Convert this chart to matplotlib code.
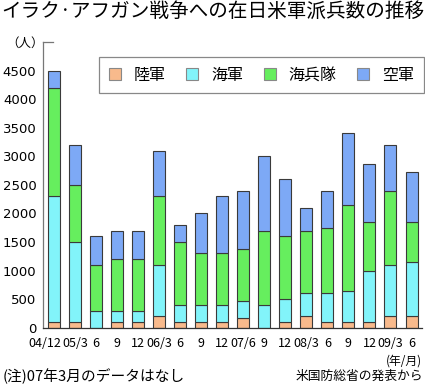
import numpy as np
import matplotlib
matplotlib.use('Agg')
import matplotlib.pyplot as plt
import matplotlib.transforms as mtransforms

plt.rcParams['font.family'] = ['Noto Sans CJK JP', 'DejaVu Sans']

# data (persons)
periods = ['04/12', '05/3', '6', '9', '12', '06/3', '6', '9', '12',
           '07/6', '9', '12', '08/3', '6', '9', '12', '09/3', '6']
army = [100, 100, 0, 100, 100, 200, 100, 100, 100,
        170, 0, 100, 200, 100, 100, 100, 200, 200]
navy_top = [2300, 1500, 300, 300, 300, 1100, 400, 400, 400,
            470, 400, 500, 600, 600, 650, 1000, 1100, 1150]
marines_top = [4200, 2500, 1100, 1200, 1200, 2300, 1500, 1300, 1300,
               1380, 1700, 1600, 1700, 1750, 2150, 1850, 2400, 1850]
air_top = [4500, 3200, 1600, 1700, 1700, 3100, 1800, 2000, 2300,
           2390, 3000, 2600, 2100, 2400, 3400, 2870, 3200, 2730]

branches = ['陸軍', '海軍', '海兵隊', '空軍']
colors = ['#F8BA8C', '#82F4FA', '#66EE5E', '#7DA9F6']

army = np.array(army)
navy = np.array(navy_top) - army
marines = np.array(marines_top) - np.array(navy_top)
air = np.array(air_top) - np.array(marines_top)

fig = plt.figure(figsize=(4.25, 3.86), dpi=100)
ax = fig.add_axes([0.102, 0.151, 0.891, 0.740])

x = np.arange(len(periods))
bottom = np.zeros(len(periods))
for vals, name, c in zip([army, navy, marines, air], branches, colors):
    ax.bar(x, vals, 0.57, bottom=bottom, color=c, edgecolor='#3a3a3a',
           linewidth=0.8, label=name)
    bottom = bottom + vals

ax.set_xlim(-0.5, 17.5)
ax.set_ylim(0, 5000)
ax.set_yticks(range(0, 5000, 500))
ax.set_yticklabels([str(v) for v in range(0, 5000, 500)], family='DejaVu Sans', fontsize=9.5)
ax.set_xticks(x)
ax.set_xticklabels(periods, fontsize=9)
ax.tick_params(axis='both', length=0)
ax.tick_params(axis='y', pad=5)
ax.tick_params(axis='x', pad=7)
# first label sits a bit to the left, as in the original
lab0 = ax.get_xticklabels()[0]
lab0.set_transform(lab0.get_transform() +
                   mtransforms.ScaledTranslation(-9 / 100, 0, fig.dpi_scale_trans))

for s in ['top', 'right']:
    ax.spines[s].set_visible(False)
ax.spines['left'].set_color('#777777')
ax.spines['bottom'].set_color('#333333')
ax.spines['left'].set_linewidth(0.9)
ax.spines['bottom'].set_linewidth(0.9)
# small mark at the top of the y axis
ax.plot([0, 0.025], [1, 1], transform=ax.transAxes, clip_on=False,
        color='#777777', linewidth=0.9)

leg = ax.legend(loc='upper left', bbox_to_anchor=(0.126, 0.975), ncol=4,
                fontsize=11.5, handlelength=0.75, handleheight=0.75,
                handletextpad=0.8, columnspacing=1.3, borderpad=0.6,
                fancybox=False, framealpha=1)
leg.get_frame().set_edgecolor('#888888')
leg.get_frame().set_linewidth(0.9)
for h in leg.legend_handles:
    h.set_edgecolor('#888888')

fig.text(0.003, 0.97, 'イラク·アフガン戦争への在日米軍派兵数の推移', fontsize=14.1,
         ha='left', va='center')
fig.text(0.058, 0.888, '（人）', fontsize=9, ha='center', va='center')
fig.text(0.993, 0.065, '(年/月)', fontsize=8.5, ha='right', va='center')
fig.text(0.005, 0.026, '(注)07年3月のデータはなし', fontsize=10.6, ha='left', va='center')
fig.text(0.995, 0.026, '米国防総省の発表から', fontsize=9.2, ha='right', va='center')

fig.savefig('out.png', dpi=100)
